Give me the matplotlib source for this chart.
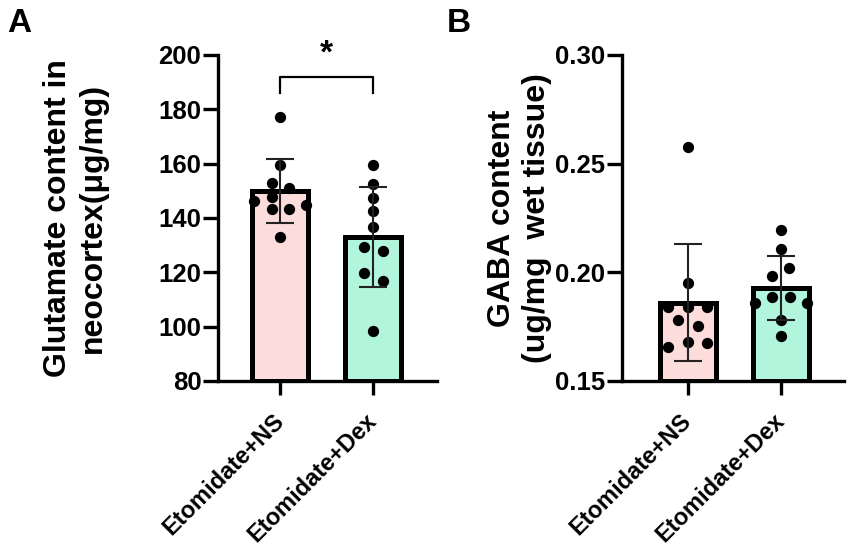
import numpy as np
import matplotlib
matplotlib.use("Agg")
import matplotlib.pyplot as plt

# ---------------- data ----------------
groups = ["Etomidate+NS", "Etomidate+Dex"]

glu_ns = [177.3, 159.5, 153.0, 151.2, 147.6, 146.4, 144.8, 143.3, 143.3, 132.9]
glu_dex = [159.5, 152.5, 147.5, 142.7, 136.6, 129.4, 127.7, 119.9, 116.7, 98.5]
gaba_ns = [0.2578, 0.1953, 0.1841, 0.1841, 0.1841, 0.1779, 0.1753, 0.1680, 0.1675, 0.1657]
gaba_dex = [0.2195, 0.2106, 0.2019, 0.1983, 0.1888, 0.1888, 0.1860, 0.1860, 0.1779, 0.1707]

glu_ticks = [80, 100, 120, 140, 160, 180, 200]
gaba_ticks = [0.15, 0.20, 0.25, 0.30]
glu_label = "Glutamate content in\nneocortex(\u03bcg/mg)"
gaba_label = "GABA content\n(ug/mg  wet tissue)"
sig_text = "*"

# ---------------- layout (beeswarm offsets, in category units) ----------------
jit_glu_ns = [0, 0, -0.09, 0.10, -0.09, -0.28, 0.28, -0.09, 0.10, 0]
jit_glu_dex = [0, 0, 0, 0, 0, -0.10, 0.11, -0.10, 0.11, 0]
jit_gaba_ns = [0, 0, -0.21, 0, 0.21, -0.11, 0.11, 0, 0.21, -0.21]
jit_gaba_dex = [0, 0, 0.09, -0.10, -0.10, 0.10, -0.28, 0.28, 0, 0]

colors = ["#FDDCDC", "#B0F5DC"]

plt.rcParams['font.family'] = ['Liberation Sans', 'DejaVu Sans']
plt.rcParams['font.weight'] = 'bold'

fig = plt.figure(figsize=(8.51, 5.5), dpi=100)
axA = fig.add_axes([218/851, 1-381/550, (437-218)/851, (381-55)/550])
axB = fig.add_axes([622/851, 1-381/550, (844-622)/851, (381-55)/550])


def panel(ax, data, jits, yticks, xlim, ylabel, fmt, label_x):
    x = np.arange(len(data))
    ymin = yticks[0]
    means = np.array([np.mean(d) for d in data])
    sds = np.array([np.std(d, ddof=1) for d in data])
    ax.bar(x, means - ymin, bottom=ymin, width=0.60, color=colors,
           edgecolor='black', linewidth=3.6, zorder=2)
    for i, (d, j) in enumerate(zip(data, jits)):
        ax.scatter(i + np.array(j), d, s=66, color='black', zorder=3,
                   linewidths=0)
    ax.errorbar(x, means, yerr=sds, fmt='none', ecolor='#222222',
                elinewidth=1.5, capsize=10, capthick=1.5, zorder=4)
    ax.set_ylim(yticks[0], yticks[-1])
    ax.set_xlim(*xlim)
    ax.set_yticks(yticks)
    ax.set_yticklabels([fmt.format(t) for t in yticks], fontsize=18.5,
                       fontweight='bold')
    ax.set_xticks(x)
    ax.set_xticklabels(groups, rotation=45, ha='right', va='center',
                       rotation_mode='anchor', fontsize=17, fontweight='bold')
    for s in ['top', 'right']:
        ax.spines[s].set_visible(False)
    for s in ['left', 'bottom']:
        ax.spines[s].set_linewidth(2.4)
    ax.tick_params(axis='y', length=11, width=2.4, pad=1)
    ax.tick_params(axis='x', length=10, width=2.4, pad=16)
    ax.set_ylabel(ylabel, fontsize=23, fontweight='bold', va='center',
                  linespacing=1.2)
    ax.yaxis.set_label_coords(label_x, 0.5)


panel(axA, [glu_ns, glu_dex], [jit_glu_ns, jit_glu_dex], glu_ticks,
      (-0.67, 1.69), glu_label, "{:.0f}", -0.650)
panel(axB, [gaba_ns, gaba_dex], [jit_gaba_ns, jit_gaba_dex], gaba_ticks,
      (-0.71, 1.68), gaba_label, "{:.2f}", -0.462)

# significance bracket
axA.plot([0, 0, 1, 1], [186.1, 191.8, 191.8, 186.1], color='black',
         linewidth=1.6, clip_on=False, zorder=5)
axA.text(0.5, 200.5, sig_text, ha='center', va='center', fontsize=24,
         fontweight='bold', clip_on=False)

fig.text(7/851, 1-32/550, "A", fontsize=24, fontweight='bold', ha='left',
         va='baseline')
fig.text(447/851, 1-32/550, "B", fontsize=24, fontweight='bold', ha='left',
         va='baseline')

fig.savefig("out.png", dpi=100)
